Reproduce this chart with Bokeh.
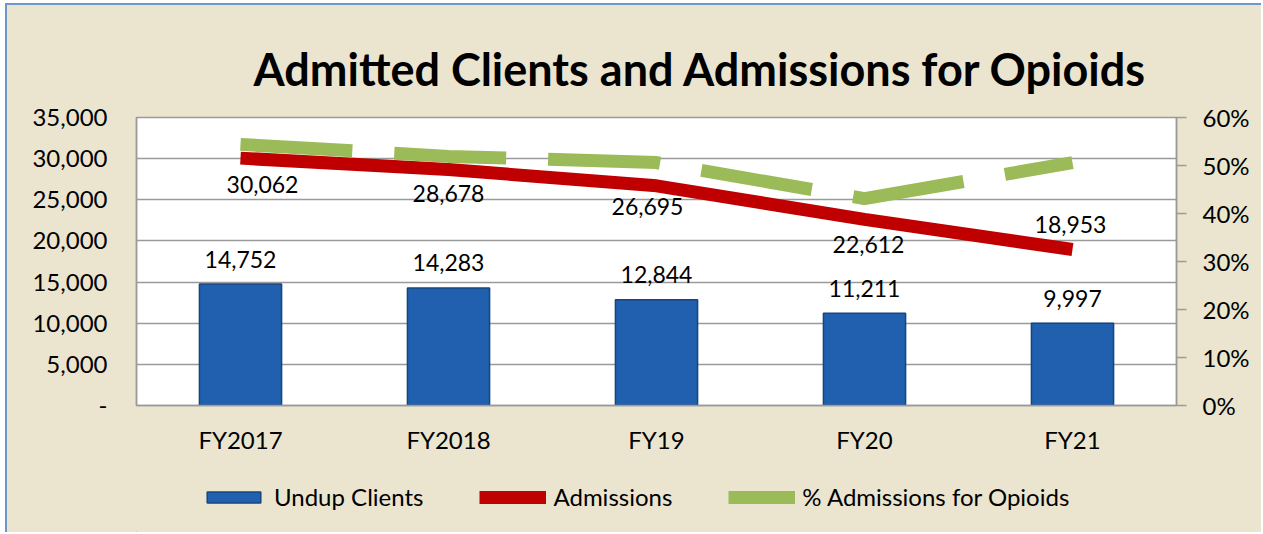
from bokeh.plotting import figure
from bokeh.layouts import column
from bokeh.models import (Range1d, LinearAxis, FixedTicker, ColumnDataSource, Legend, LegendItem, Title)
from bokeh.embed import file_html
from bokeh.resources import INLINE
from bokeh.core.properties import value

# ---- data ----
categories = ["FY2017", "FY2018", "FY19", "FY20", "FY21"]
undup_clients = [14752, 14283, 12844, 11211, 9997]
admissions = [30062, 28678, 26695, 22612, 18953]
pct_opioids = [54.4, 51.9, 50.6, 43.1, 50.6]
left_ticks = [0, 5000, 10000, 15000, 20000, 25000, 30000, 35000]
left_tick_labels = ["-", "5,000", "10,000", "15,000", "20,000", "25,000", "30,000", "35,000"]
right_ticks = [0, 10, 20, 30, 40, 50, 60]
right_tick_labels = ["0%", "10%", "20%", "30%", "40%", "50%", "60%"]
series_names = ["Undup Clients", "Admissions", "% Admissions for Opioids"]

# label placement (layout only)
adm_label_dx = [22, 0, -9, 4, -2]
adm_label_dy = [26, 24, 21, 25, -25]

FONT = "Lato"
BG = "#EBE5D0"
GRID = "#9A9A9A"
BORDER = "2px solid #6F96CC"
BAR_FILL, BAR_LINE = "#2160AE", "#17467F"
RED, GREEN = "#C00000", "#9BBB59"

xs = list(range(len(categories)))

p = figure(frame_width=1040, frame_height=288, output_backend="svg", toolbar_location=None,
           x_range=Range1d(-0.5, len(categories) - 0.5), y_range=Range1d(0, 35000),
           min_border_left=129, min_border_right=85, min_border_top=112, min_border_bottom=60,
           background_fill_color="white", border_fill_color=BG)
p.outline_line_color = GRID
p.outline_line_width = 1.5
p.xgrid.grid_line_color = None
p.ygrid.grid_line_color = GRID
p.ygrid.grid_line_width = 1.5
p.ygrid.ticker = FixedTicker(ticks=left_ticks)

p.title = Title(text="Admitted Clients and Admissions for Opioids", align="left", offset=117,
                text_font=FONT, text_font_size="45px", text_font_style="bold",
                text_color="black", standoff=43)

# left axis
ya = p.yaxis[0]
ya.ticker = FixedTicker(ticks=left_ticks)
ya.major_label_overrides = {t: l for t, l in zip(left_ticks, left_tick_labels)}
ya.major_tick_out = 0
ya.major_tick_in = 0
ya.minor_tick_out = 0
ya.minor_tick_in = 0
ya.axis_line_color = GRID
ya.axis_line_width = 1.5
ya.major_label_standoff = 29
ya.major_label_text_font = FONT
ya.major_label_text_font_size = "24px"
ya.major_label_text_color = "black"

# x axis
xa = p.xaxis[0]
xa.ticker = FixedTicker(ticks=xs)
xa.major_label_overrides = {i: c for i, c in enumerate(categories)}
xa.major_tick_out = 0
xa.major_tick_in = 0
xa.minor_tick_out = 0
xa.minor_tick_in = 0
xa.axis_line_color = GRID
xa.axis_line_width = 1.5
xa.major_label_standoff = 19
xa.major_label_text_font = FONT
xa.major_label_text_font_size = "24px"
xa.major_label_text_color = "black"

# right axis
p.extra_y_ranges = {"pct": Range1d(0, 60)}
ra = LinearAxis(y_range_name="pct")
ra.ticker = FixedTicker(ticks=right_ticks)
ra.major_label_overrides = {t: l for t, l in zip(right_ticks, right_tick_labels)}
ra.major_tick_out = 10
ra.major_tick_in = 0
ra.minor_tick_out = 0
ra.minor_tick_in = 0
ra.major_tick_line_color = GRID
ra.major_tick_line_width = 1.5
ra.axis_line_color = GRID
ra.axis_line_width = 1.5
ra.major_label_standoff = 16
ra.major_label_text_font = FONT
ra.major_label_text_font_size = "24px"
ra.major_label_text_color = "black"
p.add_layout(ra, "right")

src = ColumnDataSource(dict(x=xs, clients=undup_clients, adm=admissions, pct=pct_opioids,
                            clients_lbl=[f"{v:,}" for v in undup_clients],
                            adm_lbl=[f"{v:,}" for v in admissions],
                            dx=adm_label_dx, dy=adm_label_dy))

p.vbar(x="x", top="clients", width=0.395, source=src,
       fill_color=BAR_FILL, line_color=BAR_LINE, line_width=1.5)
p.line(x="x", y="adm", source=src, line_color=RED, line_width=13, line_cap="butt")
p.line(x="x", y="pct", source=src, y_range_name="pct", line_color=GREEN,
       line_width=13, line_dash="112 42", line_cap="butt")

p.text(x="x", y="clients", text="clients_lbl", source=src, text_align="center",
       text_baseline="middle", y_offset=-25, text_font=value(FONT), text_font_size="23px",
       text_color="black")
p.text(x="x", y="adm", text="adm_lbl", source=src, text_align="center",
       text_baseline="middle", x_offset="dx", y_offset="dy", text_font=value(FONT),
       text_font_size="23px", text_color="black")

# ---- legend strip (separate figure; its proxy glyphs sit outside its visible range) ----
lg = figure(width=1254, height=67, output_backend="svg", toolbar_location=None,
            x_range=Range1d(0, 1), y_range=Range1d(0, 1),
            x_axis_location=None, y_axis_location=None,
            min_border_left=0, min_border_right=0, min_border_top=0, min_border_bottom=0,
            background_fill_alpha=0, border_fill_color=BG, outline_line_color=None)
lg.xgrid.grid_line_color = None
lg.ygrid.grid_line_color = None
proxy = ColumnDataSource(dict(x=[-5, -4], y=[-5, -5], top=[-5, -5]))
r_bar = lg.vbar(x="x", top="top", bottom=-6, width=0.1, source=proxy,
                fill_color=BAR_FILL, line_color=BAR_LINE, line_width=1.5)
r_red = lg.line(x="x", y="y", source=proxy, line_color=RED, line_width=13, line_cap="butt")
r_green = lg.line(x="x", y="y", source=proxy, line_color=GREEN, line_width=13,
                  line_dash="112 42", line_cap="butt")

legend = Legend(items=[LegendItem(label=series_names[0], renderers=[r_bar]),
                       LegendItem(label=series_names[1], renderers=[r_red]),
                       LegendItem(label=series_names[2], renderers=[r_green])],
                orientation="horizontal", location=(64, 21),
                glyph_width=67, glyph_height=14, label_standoff=7, spacing=56,
                padding=0, margin=0, border_line_color=None, background_fill_alpha=0,
                label_text_font=FONT, label_text_font_size="24px", label_text_color="black")
lg.add_layout(legend, "center")

layout = column(p, lg, spacing=0,
                styles={"border-top": BORDER, "border-left": BORDER, "margin-left": "5px",
                        "margin-top": "3px", "background-color": BG})
open("out.html", "w").write(file_html(layout, INLINE))
